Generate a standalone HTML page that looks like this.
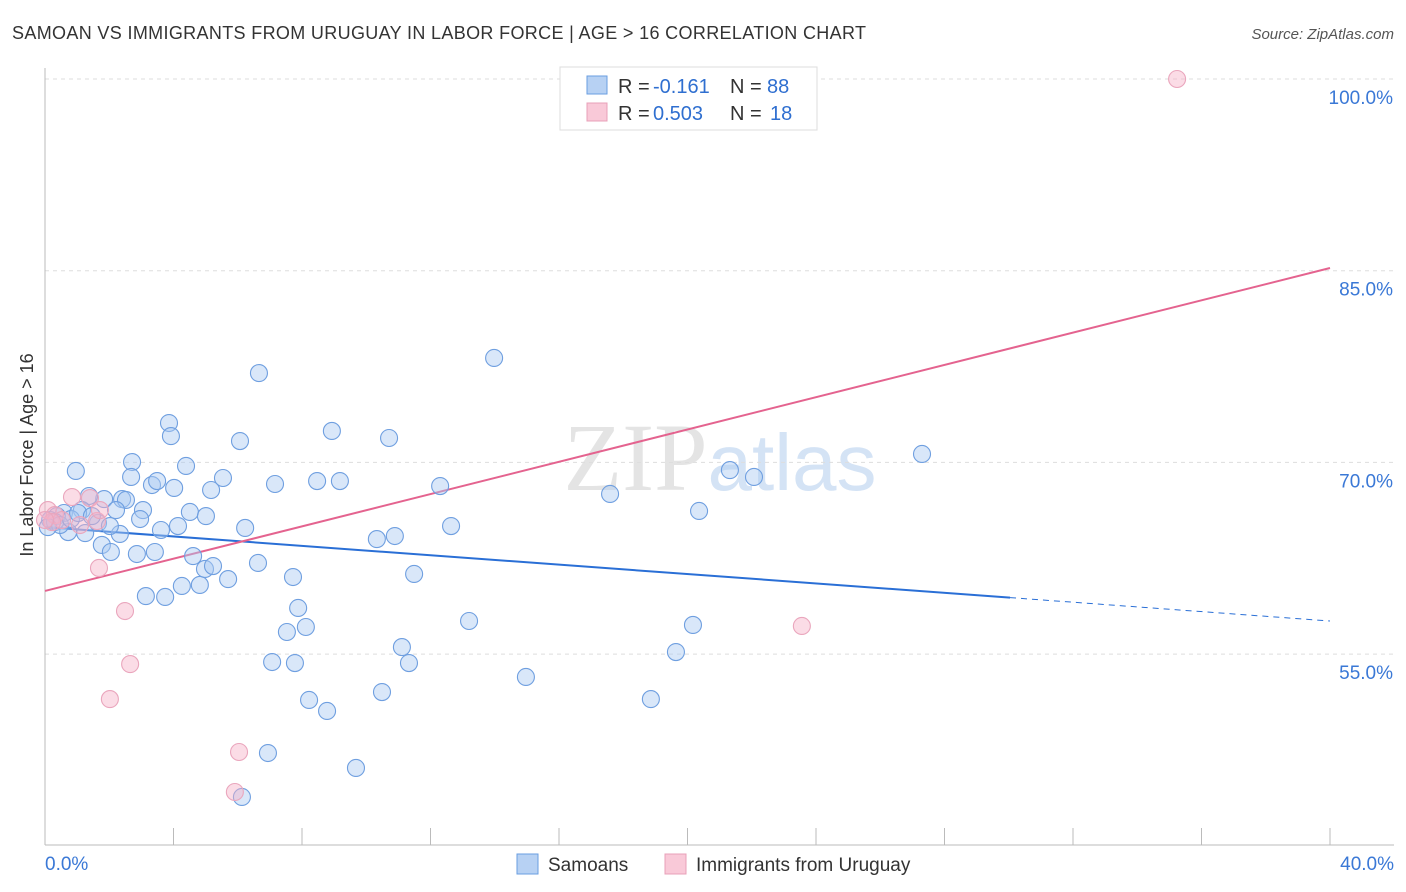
<!DOCTYPE html>
<html><head><meta charset="utf-8"><style>
body{margin:0;background:#fff;font-family:"Liberation Sans",sans-serif;}
svg{display:block}
</style></head><body>
<svg id="chart" width="1406" height="892" xmlns="http://www.w3.org/2000/svg">
<text x="12" y="39" font-size="18" fill="#333" textLength="854" lengthAdjust="spacing">SAMOAN VS IMMIGRANTS FROM URUGUAY IN LABOR FORCE | AGE &gt; 16 CORRELATION CHART</text>
<text x="1394" y="39" font-size="15" fill="#555" font-style="italic" text-anchor="end">Source: ZipAtlas.com</text>
<text x="720" y="490" font-size="96" fill="#e4e4e4" text-anchor="middle" font-family="Liberation Serif,serif">ZIP<tspan fill="#d4e3f5" font-family="Liberation Sans,sans-serif" font-size="80">atlas</tspan></text>
<g id="grid"></g><g id="axes"></g><g id="lines"></g><g id="pts"></g>
<text x="33" y="455" font-size="18" fill="#333" transform="rotate(-90 33 455)" text-anchor="middle">In Labor Force | Age &gt; 16</text>
<g>
<rect x="560" y="67" width="257" height="63" fill="#fff" stroke="#ddd"/>
<rect x="587" y="76" width="20" height="18" fill="#b7d1f3" stroke="#6a9ee0"/>
<rect x="587" y="103" width="20" height="18" fill="#f9c9d8" stroke="#e8a0b8"/>
<text x="618" y="93" font-size="20" fill="#333">R = </text><text x="653" y="93" font-size="20" fill="#2f6fd0">-0.161</text>
<text x="730" y="93" font-size="20" fill="#333">N = </text><text x="767" y="93" font-size="20" fill="#2f6fd0">88</text>
<text x="618" y="120" font-size="20" fill="#333">R = </text><text x="653" y="120" font-size="20" fill="#2f6fd0">0.503</text>
<text x="730" y="120" font-size="20" fill="#333">N = </text><text x="770" y="120" font-size="20" fill="#2f6fd0">18</text>
</g>
<g>
<rect x="517" y="854" width="21" height="20" fill="#b7d1f3" stroke="#6a9ee0"/>
<text x="548" y="871" font-size="19" fill="#333">Samoans</text>
<rect x="665" y="854" width="21" height="20" fill="#f9c9d8" stroke="#e8a0b8"/>
<text x="696" y="871" font-size="19" fill="#333">Immigrants from Uruguay</text>
</g>
</svg>
<script>
const yTicks=[100,85,70,55];
const xTickLabels=["0.0%","40.0%"];
const blueX=[0.96,2.71,1.84,1.37,2.40,2.52,2.68,3.33,3.49,4.02,4.39,3.86,3.92,5.17,5.54,4.51,5.01,3.05,2.96,2.21,1.15,0.59,0.72,1.65,2.33,1.77,2.05,2.86,3.42,3.61,4.14,4.61,3.14,3.74,4.26,4.82,4.98,5.23,5.70,6.23,6.07,6.66,7.16,6.63,7.72,8.47,9.18,8.93,7.88,8.12,7.53,7.07,7.78,8.22,8.78,6.94,9.68,6.13,10.71,13.98,10.33,10.89,11.49,12.30,12.64,13.20,11.11,11.33,10.49,14.97,17.59,18.86,19.64,20.36,20.17,21.32,22.07,27.30,0.37,0.16,0.31,0.47,0.09,0.81,1.03,1.46,1.25,2.02];
const blueY=[69.33,70.03,67.13,67.37,67.13,67.06,68.86,68.23,68.54,68.00,69.72,73.08,72.06,67.84,68.78,66.12,65.80,66.27,65.57,66.27,66.27,66.04,64.55,65.26,64.40,63.54,62.99,62.83,62.99,64.71,65.02,62.67,59.54,59.47,60.33,60.41,61.66,61.89,60.87,64.87,71.67,76.99,68.31,62.13,61.03,68.54,68.54,72.46,58.61,57.12,56.73,54.38,54.30,51.41,50.55,47.26,46.09,43.82,71.91,78.17,64.00,64.24,61.27,68.15,65.02,57.59,55.55,54.30,52.03,53.21,67.53,51.48,55.16,66.20,57.28,69.40,68.86,70.66,65.80,65.49,65.33,65.10,64.94,65.57,66.04,65.80,64.47,65.02];
const pinkX=[35.24,23.56,0.84,1.40,1.62,1.68,2.49,2.65,2.02,6.04,5.91,0.09,0.31,0.53,1.09,1.71,0.22,0.0];
const pinkY=[100.0,57.20,67.29,67.21,65.41,61.74,58.37,54.22,51.48,47.34,44.21,66.27,65.88,65.49,65.10,66.27,65.33,65.49];
const blueTrend=[64.94,57.59];const blueSolidEnd=30.04;
const pinkTrend=[59.94,85.21];
const NS="http://www.w3.org/2000/svg";
const sx=v=>45+v/40*1285, sy=v=>79+(100-v)*12.78;
function mk(t,a,p){const e=document.createElementNS(NS,t);for(const k in a)e.setAttribute(k,a[k]);p.appendChild(e);return e;}
const grid=document.getElementById('grid'),axes=document.getElementById('axes'),lines=document.getElementById('lines'),pts=document.getElementById('pts');
yTicks.forEach(v=>{
 const l=mk('line',{x1:45,x2:1394,y1:sy(v),y2:sy(v),stroke:'#ddd','stroke-dasharray':'4,4'},grid);
 
 
 const t=mk('text',{x:1393,y:sy(v)+25,'font-size':19,fill:'#3a78d6','text-anchor':'end'},grid);
 t.textContent=v.toFixed(1)+'%';
 
 
});
const ax=mk('line',{x1:45,x2:45,y1:68,y2:845,stroke:'#bbb'},axes);


const bx=mk('line',{x1:45,x2:1394,y1:845,y2:845,stroke:'#bbb'},axes);


for(let i=0;i<=10;i++){const x=sx(i*4);const tk=mk('line',{x1:x,x2:x,y1:828,y2:845,stroke:'#bbb'},axes);
 
 }
[[0,'start',45],[1,'end',1394]].forEach(([i,a,x])=>{const t=mk('text',{x:x,y:870,'font-size':19,fill:'#3a78d6','text-anchor':a},axes);t.textContent=xTickLabels[i];
 
 });
function draw(X,Y,fill,stroke,name){X.forEach((x,i)=>{const c=mk('circle',{cx:sx(x),cy:sy(Y[i]),r:8.5,fill:fill,stroke:stroke,'stroke-width':1.1},pts);
 
 });}
draw(blueX,blueY,'rgba(170,202,242,0.45)','#6f9fe0','samoan-point');
draw(pinkX,pinkY,'rgba(246,178,200,0.45)','#eaa6bd','uruguay-point');
const bs=blueTrend[0]+(blueTrend[1]-blueTrend[0])*blueSolidEnd/40;
const t1=mk('line',{x1:sx(0),y1:sy(blueTrend[0]),x2:sx(blueSolidEnd),y2:sy(bs),stroke:'#2a6fd6','stroke-width':2},lines);


const t2=mk('line',{x1:sx(blueSolidEnd),y1:sy(bs),x2:sx(40),y2:sy(blueTrend[1]),stroke:'#2a6fd6','stroke-width':1,'stroke-dasharray':'6,5'},lines);


const t3=mk('line',{x1:sx(0),y1:sy(pinkTrend[0]),x2:sx(40),y2:sy(pinkTrend[1]),stroke:'#e4638f','stroke-width':2},lines);


</script>
</body></html>
